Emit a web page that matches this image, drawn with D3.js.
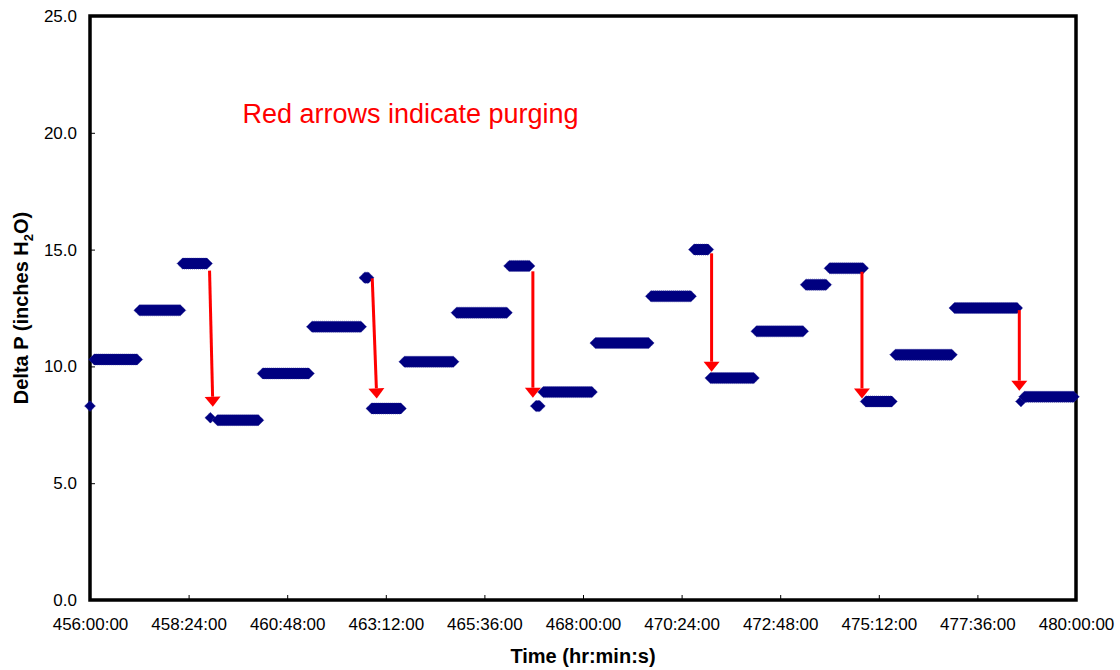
<!DOCTYPE html>
<html>
<head>
<meta charset="utf-8">
<script src="https://cdn.jsdelivr.net/npm/d3@7"></script>
<style>
  body { margin: 0; background: #fff; }
  svg { display: block; font-family: Arial, "Liberation Sans", sans-serif; }
</style>
</head>
<body>
<svg id="chart" width="1120" height="670"></svg>
<script>
// Data (time in hours, value in inches H2O)
const segStart = [456.0, 456.1, 457.2, 458.25, 458.93, 459.1, 460.2, 461.4, 462.68, 462.85, 463.65, 464.92, 466.2, 466.85, 467.03, 468.3, 469.65, 470.7, 471.1, 472.22, 473.42, 474.0, 474.88, 475.6, 477.04, 478.66, 478.74];
const segEnd   = [456.0, 457.15, 458.2, 458.85, 458.93, 460.1, 461.33, 462.6, 462.78, 463.57, 464.85, 466.15, 466.7, 466.95, 468.22, 469.6, 470.63, 471.05, 472.16, 473.36, 473.92, 474.82, 475.52, 476.98, 478.57, 478.66, 479.95];
const segValue = [8.3, 10.3, 12.4, 14.4, 7.8, 7.7, 9.7, 11.7, 13.8, 8.2, 10.2, 12.3, 14.3, 8.3, 8.9, 11.0, 13.0, 15.0, 9.5, 11.5, 13.5, 14.2, 8.5, 10.5, 12.5, 8.5, 8.7];

// Purge arrows
const arrowT0 = [458.91, 462.87, 466.78, 471.13, 474.79, 478.62];
const arrowV0 = [14.1, 13.77, 14.07, 14.84, 14.05, 12.41];
const arrowT1 = [458.99, 462.98, 466.78, 471.13, 474.79, 478.62];
const arrowV1 = [8.27, 8.63, 8.66, 9.77, 8.63, 8.96];

const yTicks = [0, 5, 10, 15, 20, 25];
const xTicks = [456, 458.4, 460.8, 463.2, 465.6, 468, 470.4, 472.8, 475.2, 477.6, 480];

const note = "Red arrows indicate purging";

// Layout
const margin = {left: 90, top: 16, right: 44, bottom: 70};
const width = 1120, height = 670;
const plotW = width - margin.left - margin.right;
const plotH = height - margin.top - margin.bottom;

const svg = d3.select("#chart");
const g = svg.append("g").attr("transform", `translate(${margin.left},${margin.top})`);

const x = d3.scaleLinear().domain([456, 480]).range([0, plotW]);
const y = d3.scaleLinear().domain([0, 25]).range([plotH, 0]);

function fmtTime(h) {
  const hr = Math.floor(h + 1e-6);
  const mn = Math.round((h - hr) * 60);
  return `${hr}:${String(mn).padStart(2, "0")}:00`;
}

// Axes (inside ticks)
const xAxis = g.append("g")
  .attr("transform", `translate(0,${plotH})`)
  .call(d3.axisBottom(x).tickValues(xTicks).tickSize(-5).tickPadding(18).tickFormat(fmtTime));
xAxis.select(".domain").remove();
xAxis.selectAll("text").attr("font-size", 17).attr("fill", "#000").attr("font-family", "Arial, 'Liberation Sans', sans-serif");

const yAxis = g.append("g")
  .call(d3.axisLeft(y).tickValues(yTicks).tickSize(-5).tickPadding(13).tickFormat(d3.format(".1f")));
yAxis.select(".domain").remove();
yAxis.selectAll("text").attr("font-size", 17).attr("fill", "#000").attr("font-family", "Arial, 'Liberation Sans', sans-serif");

// Frame
g.append("rect")
  .attr("x", 0).attr("y", 0).attr("width", plotW).attr("height", plotH)
  .attr("fill", "none").attr("stroke", "#000").attr("stroke-width", 3.5);

// Markers: runs of overlapping diamonds drawn as hexagons
const hw = 5.5, hh = 5.5;
const segs = segStart.map((s, i) => ({s, e: segEnd[i], v: segValue[i]}));
g.append("g").selectAll("path")
  .data(segs)
  .join("path")
  .attr("d", d => {
    const x0 = x(d.s), x1 = x(d.e), yc = y(d.v);
    return `M${x0 - hw},${yc}L${x0},${yc - hh}L${x1},${yc - hh}L${x1 + hw},${yc}L${x1},${yc + hh}L${x0},${yc + hh}Z`;
  })
  .attr("fill", "#000080")
  .attr("stroke", "#3a3aa0")
  .attr("stroke-width", 0.6)
  .attr("stroke-dasharray", "1,1");

// Arrows
const arrows = arrowT0.map((t, i) => ({t0: t, v0: arrowV0[i], t1: arrowT1[i], v1: arrowV1[i]}));
const headL = 10, headW = 8;
const ag = g.append("g");
arrows.forEach(a => {
  const xs = x(a.t0), ys = y(a.v0), xe = x(a.t1), ye = y(a.v1);
  const len = Math.hypot(xe - xs, ye - ys);
  const ux = (xe - xs) / len, uy = (ye - ys) / len;
  const bx = xe - ux * headL, by = ye - uy * headL;
  ag.append("line")
    .attr("x1", xs).attr("y1", ys).attr("x2", bx).attr("y2", by)
    .attr("stroke", "#ff0000").attr("stroke-width", 3);
  ag.append("path")
    .attr("d", `M${xe},${ye}L${bx - uy * headW},${by + ux * headW}L${bx + uy * headW},${by - ux * headW}Z`)
    .attr("fill", "#ff0000");
});

// Note
g.append("text")
  .attr("x", x(459.71)).attr("y", y(20.41))
  .attr("fill", "#ff0000")
  .attr("font-size", 27)
  .text(note);

// Axis titles
svg.append("text")
  .attr("x", margin.left + plotW / 2).attr("y", 663)
  .attr("text-anchor", "middle")
  .attr("font-size", 20).attr("font-weight", "bold")
  .text("Time (hr:min:s)");

const yt = svg.append("text")
  .attr("transform", `translate(28,${margin.top + plotH / 2}) rotate(-90)`)
  .attr("text-anchor", "middle")
  .attr("font-size", 20).attr("font-weight", "bold");
yt.append("tspan").text("Delta P (inches H");
yt.append("tspan").attr("font-size", 13).attr("dy", 5).text("2");
yt.append("tspan").attr("dy", -5).text("O)");
</script>
</body>
</html>
